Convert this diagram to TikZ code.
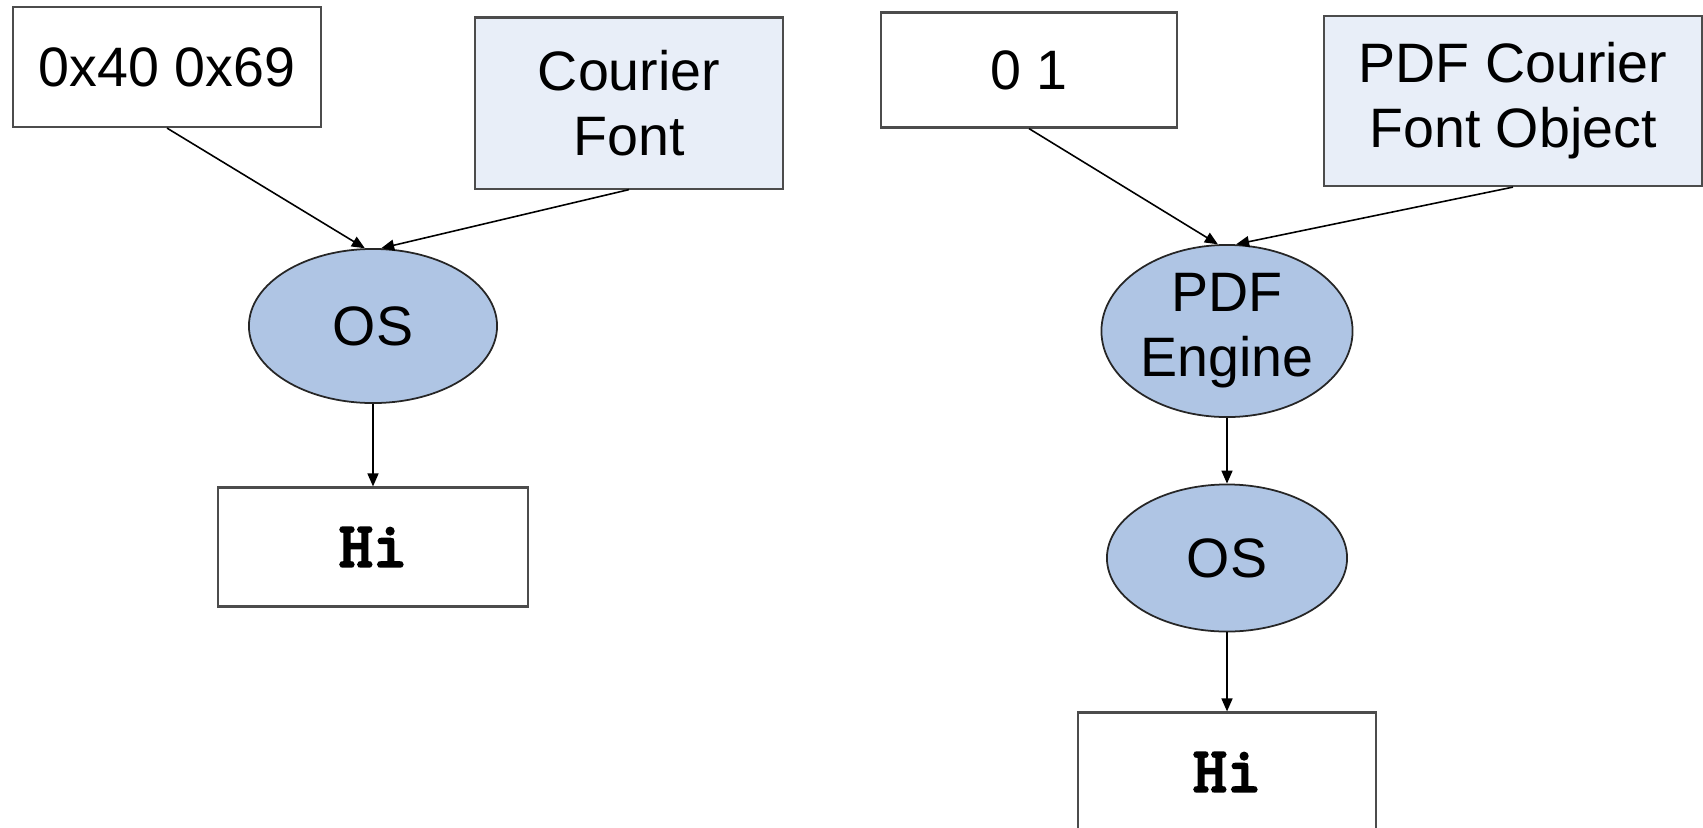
\documentclass[tikz,border=0pt]{standalone}
\usepackage{fontspec}
\setmainfont{Liberation Sans}
\newfontfamily\hifont{lmmonolt10-bold}[Extension=.otf, FakeBold=2.5]
\usetikzlibrary{shapes.geometric, arrows.meta, positioning}
\definecolor{ovalblue}{RGB}{175,197,228}
\definecolor{paleblue}{RGB}{232,238,248}
\begin{document}
\begin{tikzpicture}[x=0.01cm, y=-0.01cm,
    box/.style={draw=black!70, line width=0.6pt, fill=white, align=center, inner sep=0pt, minimum width=3.08cm, minimum height=1.2cm, font=\fontsize{15.8}{18.5}\selectfont},
    fontbox/.style={box, fill=paleblue, minimum height=1.71cm},
    oval/.style={ellipse, draw=black!85, line width=0.5pt, fill=ovalblue, align=center, inner sep=0pt, font=\fontsize{15.8}{18.5}\selectfont},
    outbox/.style={box, font=\fontsize{18.5}{18.5}\selectfont\hifont},
    arr/.style={-{Triangle[length=1.3mm, width=1.1mm]}, line width=0.45pt}]
    \clip (0,0) rectangle (1703,827);
    % left: plain text
    \node[box] (bytes) at (167,67) {0x40 0x69};
    \node[fontbox, minimum width=3.07cm] (courier) at (629,103) {Courier\\Font};
    \node[oval, minimum width=2.48cm, minimum height=1.54cm] (os) at (373,326) {OS};
    \node[outbox, minimum width=3.09cm, minimum height=1.19cm] (hi) at (373,547) {Hi};
    \draw[arr] (bytes.south) -- (os.96);
    \draw[arr] (courier.south) -- (os.84);
    \draw[arr] (os.south) -- (hi.north);
    % right: PDF
    \node[box, minimum width=2.96cm, minimum height=1.15cm] (glyphs) at (1029,70) {0 1};
    \node[fontbox, minimum width=3.77cm, minimum height=1.70cm] (pdffont) at (1513,101) {PDF Courier\\Font Object};
    \node[oval, minimum width=2.51cm, minimum height=1.72cm] (engine) at (1227,331) {PDF\\Engine};
    \node[oval, minimum width=2.40cm, minimum height=1.47cm] (pdfos) at (1227,558) {OS};
    \node[outbox, minimum width=2.97cm, minimum height=1.19cm] (pdfhi) at (1227,772) {Hi};
    \draw[arr] (glyphs.south) -- (engine.96);
    \draw[arr] (pdffont.south) -- (engine.84);
    \draw[arr] (engine.south) -- (pdfos.north);
    \draw[arr] (pdfos.south) -- (pdfhi.north);
\end{tikzpicture}
\end{document}
